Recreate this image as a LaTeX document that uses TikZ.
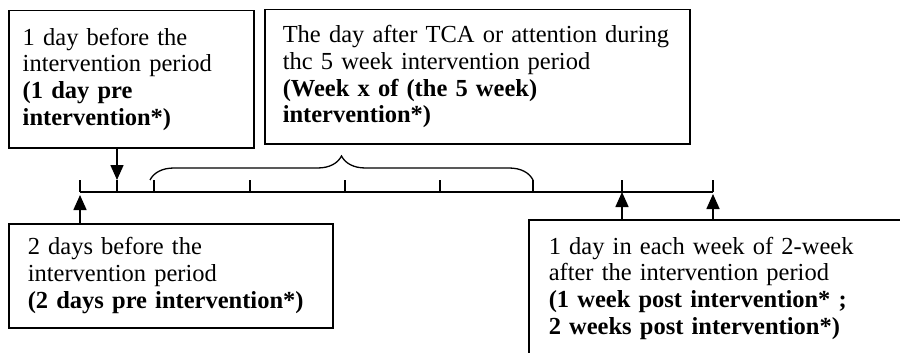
\documentclass[tikz,border=0pt]{standalone}
\usepackage{fontspec}
\setmainfont{Liberation Serif}
\usetikzlibrary{arrows.meta,decorations.pathreplacing}

\begin{document}
\begin{tikzpicture}[x=1pt,y=-1pt,
    labelbox/.style={draw,line width=1.5pt,anchor=north west,align=left,
      font=\fontsize{24.5}{26.8}\selectfont},
    axisline/.style={line width=1.4pt},
    uparrow/.style={line width=1.6pt,-{Triangle[width=13pt,length=15pt]}}]
  \clip (0,0) rectangle (900,353);
  % boxes
  \node[labelbox,text width=217pt,inner xsep=14pt,minimum height=137pt] (pre1) at (8,10)
    {1 day before the\\intervention period\\\textbf{(1 day pre}\\\textbf{intervention*)}};
  \node[labelbox,text width=389pt,inner xsep=18pt,minimum height=134pt] (during) at (264,9)
    {The day after TCA or attention during\\thc 5 week intervention period\\\textbf{(Week x of (the 5 week)}\\\textbf{intervention*)}};
  \node[labelbox,text width=286pt,inner xsep=19pt,minimum height=104pt] (pre2) at (8,223)
    {2 days before the\\intervention period\\\textbf{(2 days pre intervention*)}};
  \node[labelbox,draw=none,text width=330pt,inner xsep=19pt,inner ysep=16pt] (post) at (529,220)
    {1 day in each week of 2-week\\after the intervention period\\\textbf{(1 week post intervention* ;}\\\textbf{2 weeks post intervention*)}};
  \draw[line width=1.5pt] ([yshift=-200pt]post.north west) -- (post.north west) -- ([xshift=400pt]post.north west);
  % time line
  \foreach \x [count=\i] in {80,117,154,250,345,440,533,622,713}
    \coordinate (t\i) at (\x,192);
  \draw[axisline] (t1) -- (t9);
  \foreach \i in {1,...,9}
    \draw[axisline] (t\i) -- ++(0,-12);
  \draw[line width=1.3pt,decorate,decoration={brace,amplitude=24pt}]
    (150,180) -- (533,180);
  % arrows
  \draw[uparrow] (pre1.south -| t2) -- ([yshift=12pt]t2);
  \draw[uparrow,shorten >=3pt] (pre2.north -| t1) -- (t1);
  \draw[uparrow] (post.north -| t8) -- (t8);
  \draw[uparrow,shorten >=-2pt] (post.north -| t9) -- ([yshift=-4pt]t9);
\end{tikzpicture}
\end{document}
